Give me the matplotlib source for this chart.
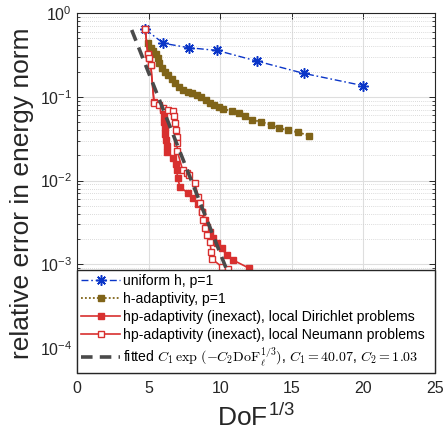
import matplotlib
matplotlib.use("Agg")
import matplotlib.pyplot as plt
from matplotlib.ticker import LogLocator, NullFormatter

plt.rcParams['font.family'] = ['Liberation Sans', 'DejaVu Sans']
plt.rcParams['mathtext.fontset'] = 'cm'
plt.rcParams['axes.unicode_minus'] = False

# ---- data ----
uni_x = [4.77, 6.03, 7.82, 9.80, 12.55, 15.85, 20.00]
uni_y = [0.638, 0.435, 0.385, 0.357, 0.267, 0.190, 0.1355]

had_x = [4.98, 5.15, 5.33, 5.50, 5.64, 5.73, 5.91, 6.15, 6.38, 6.61, 6.84, 7.12,
         7.42, 7.73, 8.05, 8.36, 8.66, 8.99, 9.29, 9.59, 9.92, 10.22, 10.80,
         11.31, 11.73, 12.22, 12.87, 13.53, 14.13, 14.73, 15.45, 16.22]
had_y = [0.435, 0.379, 0.355, 0.324, 0.288, 0.251, 0.219, 0.199, 0.182, 0.163,
         0.145, 0.130, 0.120, 0.114, 0.110, 0.105, 0.0985, 0.0914, 0.0849,
         0.0791, 0.0748, 0.0720, 0.0670, 0.0634, 0.0589, 0.0532, 0.0500,
         0.0464, 0.0423, 0.0397, 0.0376, 0.0343]

dir_x = [4.77, 4.94, 5.05, 5.15, 5.38, 6.03, 6.08, 6.11, 6.15, 6.18, 6.22, 6.26,
         6.31, 6.72, 6.89, 6.96, 7.03, 7.19, 7.77, 8.12, 8.47, 8.71, 8.94, 9.08,
         9.29, 9.52, 9.76, 10.10, 10.45, 10.86, 12.03]
dir_y = [0.638, 0.324, 0.288, 0.239, 0.0858, 0.0695, 0.0589, 0.0500, 0.0423,
         0.0359, 0.0305, 0.0258, 0.0221, 0.0184, 0.0157, 0.0133, 0.0107,
         0.00836, 0.00703, 0.00612, 0.00524, 0.00420, 0.00337, 0.00279,
         0.00243, 0.00204, 0.00178, 0.00155, 0.00129, 0.00113, 0.000895]

neu_x = [4.77, 4.94, 5.05, 5.15, 5.38, 5.73, 6.03, 6.38, 6.72, 6.79, 6.84, 6.91,
         6.96, 7.00, 7.00, 7.38, 7.66, 7.82, 8.24, 8.47, 8.59, 8.71, 8.82, 8.94,
         9.06, 9.29, 9.36, 9.45, 10.10, 10.57]
neu_y = [0.638, 0.324, 0.288, 0.239, 0.0854, 0.0797, 0.0728, 0.0695, 0.0681,
         0.0589, 0.0482, 0.0401, 0.0334, 0.0278, 0.0225, 0.0133, 0.0124,
         0.0116, 0.00927, 0.00641, 0.00534, 0.00424, 0.00337, 0.00269,
         0.00223, 0.00186, 0.00141, 0.00115, 0.000935, 0.000870]

fit_x = [3.82, 10.8]
fit_y = [0.627, 6.1e-4]

labels = ['uniform h, p=1',
          'h-adaptivity, p=1',
          'hp-adaptivity (inexact), local Dirichlet problems',
          'hp-adaptivity (inexact), local Neumann problems',
          r'fitted $C_1\,\exp\,(-C_2\mathrm{DoF}_\ell^{1/3})$, $C_1=40.07$, $C_2=1.03$']

xticks = [0, 5, 10, 15, 20, 25]

# ---- figure ----
fig = plt.figure(figsize=(4.43, 4.34), dpi=100)
ax = fig.add_axes([0.1738, 0.1406, 0.8082, 0.8294])

blue = '#0a35c8'
olive = '#806419'
red = '#d8302f'
gray = '#4a4a4a'

ax.semilogy(uni_x, uni_y, linestyle=(0, (5, 2, 1.2, 2)), color=blue, lw=1.0,
            marker=(8, 2, 0), ms=7.5, mew=1.1, label=labels[0], zorder=3)
ax.semilogy(had_x, had_y, linestyle=(0, (1, 1.2)), color=olive, lw=1.3,
            marker='s', ms=5, mfc=olive, mec=olive, label=labels[1], zorder=3)
ax.semilogy(dir_x, dir_y, '-', color=red, lw=1.2, marker='s', ms=5,
            mfc=red, mec=red, label=labels[2], zorder=4)
ax.semilogy(neu_x, neu_y, '-', color=red, lw=1.2, marker='s', ms=5,
            mfc='white', mec=red, mew=1.0, label=labels[3], zorder=5)
ax.semilogy(fit_x, fit_y, linestyle=(0, (3.2, 2.0)), color=gray, lw=2.6,
            label=labels[4], zorder=6)

ax.set_xlim(0, 25)
ax.set_ylim(5.03e-5, 1)
ax.set_xticks(xticks)
ax.yaxis.set_major_locator(LogLocator(base=10, numticks=10))
ax.yaxis.set_minor_locator(LogLocator(base=10, subs=range(2, 10), numticks=20))
ax.yaxis.set_minor_formatter(NullFormatter())

ax.grid(True, which='major', color='#dedede', lw=0.8, ls='-')
ax.grid(True, which='minor', axis='y', color='#cfcfcf', lw=0.6, ls=(0, (1, 1.5)))
ax.set_axisbelow(True)

ax.tick_params(which='both', direction='in', top=True, right=True,
               colors='#262626', labelsize=11.5)
ax.tick_params(axis='x', which='major', pad=6)
ax.tick_params(which='major', length=4, width=0.7)
ax.tick_params(which='minor', length=2.2, width=0.6)
for s in ax.spines.values():
    s.set_color('#262626')
    s.set_linewidth(0.8)

ax.set_xlabel(r'DoF$^{\mathdefault{1/3}}$', fontsize=19, color='#262626', labelpad=5)
ax.set_ylabel('relative error in energy norm', fontsize=19, color='#262626', labelpad=4)

leg = ax.legend(loc='lower left', bbox_to_anchor=(0, 0, 1, 1), mode='expand',
                borderaxespad=0, fontsize=10.1, handlelength=2.8,
                handletextpad=0.2, labelspacing=0.28, borderpad=0.3,
                fancybox=False, framealpha=1, edgecolor='#262626')
leg.get_frame().set_linewidth(1.0)
leg.set_zorder(10)

fig.savefig('out.png', dpi=100)
